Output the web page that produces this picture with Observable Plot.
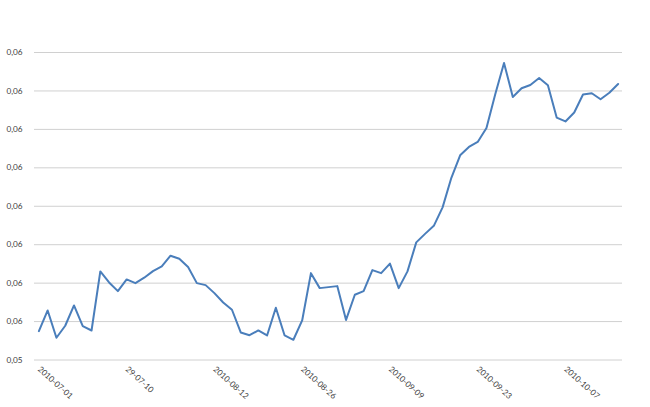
<!DOCTYPE html>
<html>
<head>
<meta charset="utf-8">
<script src="https://cdn.jsdelivr.net/npm/d3@7"></script>
<script src="https://cdn.jsdelivr.net/npm/@observablehq/plot@0.6"></script>
<style>
  html, body { margin: 0; padding: 0; background: #ffffff; }
</style>
</head>
<body>
<div id="chart"></div>
<script>
const values = [
  0.054750, 0.055289, 0.054578, 0.054891, 0.055419, 0.054880, 0.054768, 0.056305, 0.056018, 0.055792,
  0.056096, 0.056000, 0.056141, 0.056313, 0.056435, 0.056714, 0.056635, 0.056417, 0.056000, 0.055948,
  0.055740, 0.055497, 0.055307, 0.054716, 0.054646, 0.054768, 0.054638, 0.055359, 0.054638, 0.054526,
  0.055029, 0.056260, 0.055870, 0.055896, 0.055922, 0.055042, 0.055698, 0.055792, 0.056339, 0.056260,
  0.056508, 0.055870, 0.056305, 0.057060, 0.057281, 0.057490, 0.057971, 0.058740, 0.059326, 0.059542,
  0.059672, 0.060036, 0.060914, 0.061729, 0.060844, 0.061070, 0.061156, 0.061336, 0.061148, 0.060307,
  0.060206, 0.060438, 0.060906, 0.060940, 0.060784, 0.060953, 0.061180
];
const xTickIndex = [0, 10, 20, 30, 40, 50, 60];
const xTickLabels = ["2010-07-01", "29-07-10", "2010-08-12", "2010-08-26", "2010-09-09", "2010-09-23", "2010-10-07"];
const yTicks = [0.054, 0.055, 0.056, 0.057, 0.058, 0.059, 0.060, 0.061, 0.062];
const yTickLabels = ["0,05", "0,06", "0,06", "0,06", "0,06", "0,06", "0,06", "0,06", "0,06"];

const chart = Plot.plot({
  width: 650,
  height: 407,
  marginTop: 52,
  marginBottom: 47.5,
  marginLeft: 34,
  marginRight: 28,
  x: {type: "linear", domain: [-0.5, values.length - 0.5], label: null},
  y: {domain: [0.054, 0.062], label: null},
  style: {fontFamily: "Lato, 'Open Sans', sans-serif", fontSize: "8.2px", color: "#404040", background: "#ffffff"},
  marks: [
    Plot.ruleY(yTicks, {stroke: "#d0d0d0", strokeWidth: 1}),
    Plot.axisY({ticks: yTicks, tickFormat: d => yTickLabels[yTicks.indexOf(d)], tickSize: 0, tickPadding: 12, label: null}),
    Plot.axisX({ticks: xTickIndex, tickFormat: d => xTickLabels[xTickIndex.indexOf(d)], tickSize: 0, tickPadding: 8, tickRotate: 42, label: null}),
    Plot.lineY(values, {x: (d, i) => i, y: d => d, stroke: "#4a7ebb", strokeWidth: 2})
  ]
});
document.getElementById("chart").appendChild(chart);
</script>
</body>
</html>
